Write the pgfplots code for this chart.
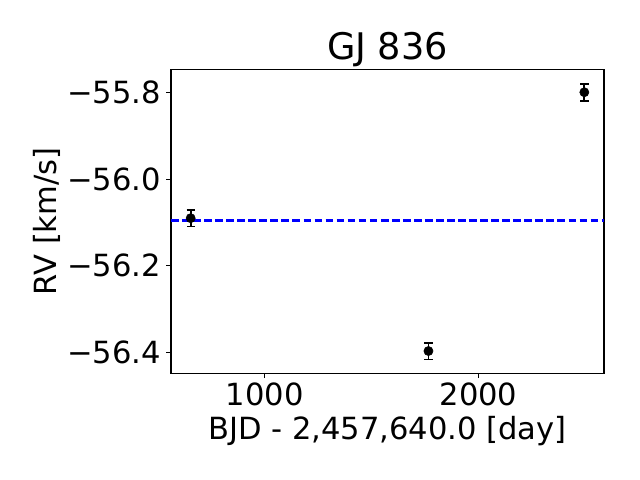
\documentclass[border=0pt]{standalone}
\usepackage{fontspec}
\setmainfont{DejaVu Sans}
\usepackage{pgfplots}
\pgfplotsset{compat=1.18}

\pgfplotstableread{
x     y        e
654   -56.090  0.0194
1766  -56.397  0.0194
2495  -55.799  0.0194
}\rvdata

\begin{document}
\begin{tikzpicture}
\path[use as bounding box] (0,0) rectangle (460.8bp,345.6bp);
\begin{axis}[
 at={(123.12bp,76.82bp)}, anchor=south west,
 width=311.76bp, height=218.88bp, scale only axis,
 xmin=562, xmax=2587, ymin=-56.4485, ymax=-55.746,
 xtick={1000,2000}, xticklabels={1000,2000},
 ytick={-56.4,-56.2,-56.0,-55.8},
 yticklabels={−56.4,−56.2,−56.0,−55.8},
 tick align=outside, xtick pos=left, ytick pos=left,
 major tick length=3.5bp,
 tick style={black, line width=0.8bp},
 axis line style={line width=0.8bp},
 tick label style={font=\fontsize{22bp}{26bp}\selectfont, inner sep=0pt},
 xticklabel style={yshift=-3.5bp},
 yticklabel style={xshift=-3.5bp},
 every axis title shift=0pt,
 title={GJ 836},
 title style={font=\fontsize{26.4bp}{31bp}\selectfont, inner sep=0pt,
   at={(axis description cs:0.5,1.0329)}, anchor=base},
 xlabel={BJD - 2,457,640.0 [day]},
 xlabel style={font=\fontsize{22bp}{26bp}\selectfont, inner sep=0pt,
   at={(axis description cs:0.5,-0.2193)}, anchor=base},
 ylabel={RV [km/s]},
 ylabel style={font=\fontsize{22bp}{26bp}\selectfont, inner sep=0pt,
   at={(axis description cs:-0.264,0.5)}, anchor=base},
]
\addplot[blue, line width=1.5bp, dash pattern=on 5.55bp off 2.4bp]
  coordinates {(562,-56.0953) (2587,-56.0953)};
\addplot[only marks, mark=*, black, mark size=3.3bp,
  error bars/.cd, y dir=both, y explicit,
  error bar style={line width=1.3bp, black},
  error mark options={rotate=90, mark size=3bp, line width=1.3bp, black}]
  table[x=x, y=y, y error=e] {\rvdata};
\end{axis}
\end{tikzpicture}
\end{document}
